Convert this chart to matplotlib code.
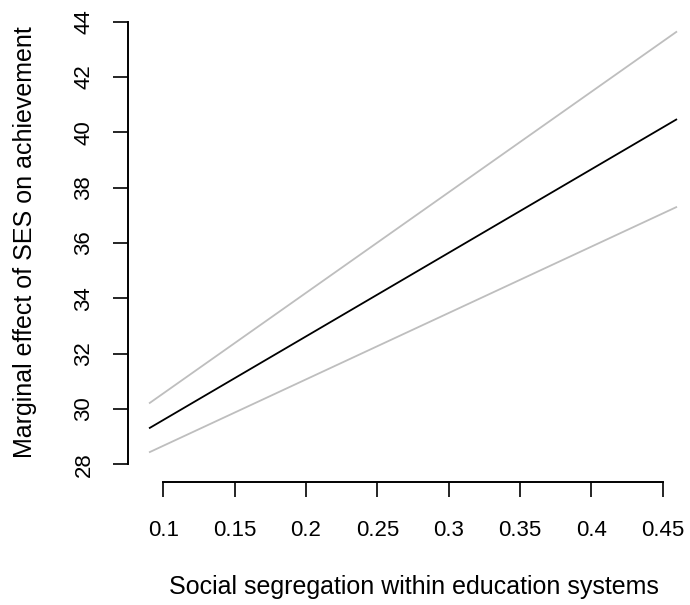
import matplotlib
matplotlib.use("Agg")
import matplotlib.pyplot as plt
import numpy as np

# segregation range and fitted marginal effect with its confidence band
seg = [0.09, 0.46]
effect = [29.30, 40.48]
upper = [30.20, 43.65]
lower = [28.43, 37.31]

xticks = [0.1, 0.15, 0.2, 0.25, 0.3, 0.35, 0.4, 0.45]
xticklabels = ["0.1", "0.15", "0.2", "0.25", "0.3", "0.35", "0.4", "0.45"]
yticks = [28, 30, 32, 34, 36, 38, 40, 42, 44]

plt.rcParams['font.family'] = ['Liberation Sans', 'DejaVu Sans']

W, H = 690, 605
fig = plt.figure(figsize=(W / 100, H / 100), dpi=100)

# plot region in pixels, base-R style (axis lines only span the ticks)
left, bottom = 128.3, 482.3
ax = fig.add_axes([left / W, (H - bottom) / H, (W - left) / W, bottom / H])
px_x = 1427.0   # pixels per unit on x
px_y = 27.66    # pixels per unit on y
ax.set_xlim(0.1 - (163.3 - left) / px_x, 0.1 + (W - 163.3) / px_x)
ax.set_ylim(28 - (bottom - 464.3) / px_y, 28 + 464.3 / px_y)

ax.plot(seg, upper, color="#bebebe", lw=1.3, solid_capstyle="butt")
ax.plot(seg, lower, color="#bebebe", lw=1.3, solid_capstyle="butt")
ax.plot(seg, effect, color="black", lw=1.3, solid_capstyle="butt")

for s in ["top", "right"]:
    ax.spines[s].set_visible(False)
ax.spines["left"].set_bounds(28, 44)
ax.spines["bottom"].set_bounds(0.1, 0.45)
ax.spines["left"].set_linewidth(1.4)
ax.spines["bottom"].set_linewidth(1.4)

ax.set_xticks(xticks)
ax.set_xticklabels(xticklabels)
ax.set_yticks(yticks)
ax.tick_params(axis="both", direction="out", length=10.8, width=1.2,
               labelsize=16, colors="black")
ax.tick_params(axis="x", pad=16.5)
ax.tick_params(axis="y", pad=13.5)
for lab in ax.get_yticklabels():
    lab.set_rotation(90)
    lab.set_va("center")

fig.text(414 / W, 1 - 587 / H, "Social segregation within education systems",
         ha="center", va="center", fontsize=18)
fig.text(25 / W, 1 - 242 / H, "Marginal effect of SES on achievement",
         ha="center", va="center", rotation=90, fontsize=18)

fig.savefig("out.png", dpi=100)
